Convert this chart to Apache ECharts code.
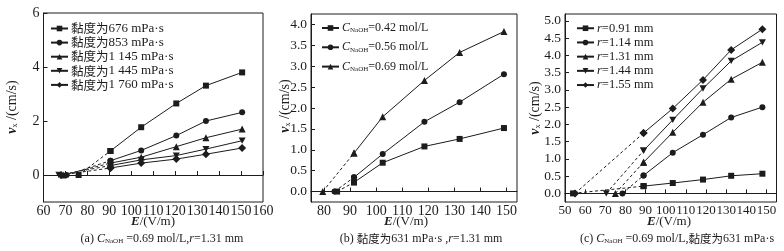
<!DOCTYPE html>
<html>
<head>
<meta charset="utf-8">
<script src="https://cdn.jsdelivr.net/npm/echarts@6/dist/echarts.min.js"></script>
<style>
  html, body { margin: 0; padding: 0; background: #fff; }
  #main { width: 784px; height: 251px; }
</style>
</head>
<body>
<div id="main"></div>
<script>
// (a) 不同黏度
var eA = [90.5, 104.5, 120.5, 134, 150.5];
var namesA = ['黏度为676 mPa·s', '黏度为853 mPa·s', '黏度为1 145 mPa·s', '黏度为1 445 mPa·s', '黏度为1 760 mPa·s'];
var zeroA = [76, 70.5, 69, 67, 68];
var vA676 = [0.89, 1.77, 2.65, 3.31, 3.80];
var vA853 = [0.53, 0.91, 1.46, 2.00, 2.32];
var vA1145 = [0.44, 0.66, 1.05, 1.38, 1.70];
var vA1445 = [0.35, 0.56, 0.72, 0.96, 1.27];
var vA1760 = [0.26, 0.44, 0.59, 0.77, 1.00];

// (b) 不同 NaOH 浓度
var eB = [91.5, 102.5, 118.5, 132, 149];
var concB = ['0.42', '0.56', '0.69'];
var zeroB = [85, 84, 79.5];
var vB042 = [0.22, 0.69, 1.08, 1.26, 1.52];
var vB056 = [0.34, 0.90, 1.67, 2.14, 2.81];
var vB069 = [0.92, 1.79, 2.66, 3.33, 3.83];

// (c) 不同半径
var eC = [89, 103.5, 118.5, 132.5, 148];
var radC = ['0.91', '1.14', '1.31', '1.44', '1.55'];
var zeroC = [54, 78.5, 75, 70.5, 55];
var vC091 = [0.21, 0.30, 0.40, 0.51, 0.57];
var vC114 = [0.52, 1.18, 1.70, 2.20, 2.50];
var vC131 = [0.90, 1.77, 2.64, 3.31, 3.80];
var vC144 = [1.24, 2.13, 3.04, 3.84, 4.38];
var vC155 = [1.75, 2.46, 3.29, 4.16, 4.76];

// tick labels
var xTicksA = [60, 70, 80, 90, 100, 110, 120, 130, 140, 150, 160];
var yTicksA = [0, 2, 4, 6];
var xTicksB = [80, 90, 100, 110, 120, 130, 140, 150];
var yTicksB = [0, 0.5, 1, 1.5, 2, 2.5, 3, 3.5, 4];
var xTicksC = [50, 60, 70, 80, 90, 100, 110, 120, 130, 140, 150];
var yTicksC = [0, 0.5, 1, 1.5, 2, 2.5, 3, 3.5, 4, 4.5, 5];

var FONT = '"Liberation Serif", "Noto Sans CJK SC", serif';
var CJK = '"Noto Sans CJK SC", serif';
var INK = '#1c1c1c';
var downTri = 'path://M0,0L10,0L5,9Z';
var symA = ['rect', 'circle', 'triangle', downTri, 'diamond'];
var symB = ['rect', 'circle', 'triangle'];
var symC = ['rect', 'circle', 'triangle', downTri, 'diamond'];

// 富文本样式：斜体、粗斜体、下标、正文、中文
function mkRich(f, sf, cf) {
  return {
    b: { fontFamily: FONT, fontSize: f, fontStyle: 'italic', fontWeight: 'bold', color: INK, lineHeight: f },
    i: { fontFamily: FONT, fontSize: f, fontStyle: 'italic', color: INK, lineHeight: f },
    s: { fontFamily: FONT, fontSize: sf, color: INK, verticalAlign: 'bottom', padding: [Math.round(f / 2), 0, 0, 0], lineHeight: f },
    n: { fontFamily: FONT, fontSize: f, color: INK, lineHeight: f },
    c: { fontFamily: CJK, fontSize: cf, color: INK, lineHeight: f }
  };
}
var richLegA = mkRich(13, 7, 12.5);
var richLegB = mkRich(12, 7, 12);
var richLegC = mkRich(12.5, 7, 12);
var richAxisY = mkRich(14, 8, 13);
var richAxisX = mkRich(13, 7, 12);
var richCap = mkRich(12, 7, 11.5);

function symSize(s) {
  if (s === 'diamond') return 8;
  if (s === 'triangle' || s === downTri) return 7;
  return 6;
}

var series = [];
function addGroup(g, names, syms, xs, valsList, zeros) {
  names.forEach(function (n, i) {
    var vals = valsList[i];
    series.push({
      type: 'line', name: n, xAxisIndex: g, yAxisIndex: g,
      data: xs.map(function (x, j) { return [x, vals[j]]; }),
      symbol: syms[i], symbolSize: symSize(syms[i]), symbolKeepAspect: true,
      lineStyle: { color: INK, width: 1 }, itemStyle: { color: INK },
      animation: false, z: 3
    });
    // 虚线：起始点到第一个测点
    series.push({
      type: 'line', name: n + ' ', xAxisIndex: g, yAxisIndex: g,
      data: [[zeros[i], 0], [xs[0], vals[0]]],
      symbol: syms[i], symbolSize: symSize(syms[i]), symbolKeepAspect: true,
      lineStyle: { color: INK, width: 1, type: [3, 2.5] }, itemStyle: { color: INK },
      animation: false, z: 2
    });
  });
}

var namesB = concB.map(function (c) { return 'CNaOH=' + c + ' mol/L'; });
var namesC = radC.map(function (r) { return 'r=' + r + ' mm'; });

addGroup(0, namesA, symA, eA, [vA676, vA853, vA1145, vA1445, vA1760], zeroA);
addGroup(1, namesB, symB, eB, [vB042, vB056, vB069], zeroB);
addGroup(2, namesC, symC, eC, [vC091, vC114, vC131, vC144, vC155], zeroC);

function xAx(g, min, max, ticks, fs) {
  return {
    type: 'value', gridIndex: g, min: min, max: max,
    axisLine: { show: true, lineStyle: { color: INK, width: 1 } },
    axisTick: { show: true, inside: true, length: 4, customValues: ticks, lineStyle: { color: INK } },
    axisLabel: { customValues: ticks, margin: 2, fontFamily: FONT, fontSize: fs, color: INK, hideOverlap: false },
    splitLine: { show: false }
  };
}
function yAx(g, min, max, ticks, digits, fs) {
  return {
    type: 'value', gridIndex: g, min: min, max: max,
    axisLine: { show: true, lineStyle: { color: INK, width: 1 } },
    axisTick: { show: true, inside: true, length: 4, customValues: ticks, lineStyle: { color: INK } },
    axisLabel: {
      customValues: ticks, margin: 4, fontFamily: FONT, fontSize: fs, color: INK,
      formatter: function (v) { return v.toFixed(digits); }
    },
    splitLine: { show: false }
  };
}

function legendOf(names, left, top, gap, rich, fmt) {
  return {
    data: names, left: left, top: top, orient: 'vertical',
    itemWidth: 17, itemHeight: 7, itemGap: gap,
    textStyle: { fontFamily: FONT, fontSize: 13, color: INK, padding: [0, 0, 0, -2], rich: rich },
    formatter: fmt, selectedMode: false
  };
}

function label(x, y, text, rich, rot) {
  return {
    type: 'text', x: x, y: y, rotation: rot || 0,
    style: { text: text, rich: rich, align: 'center', verticalAlign: 'middle', fill: INK }
  };
}

var option = {
  backgroundColor: '#fff',
  animation: false,
  grid: [
    { left: 43.5, top: 13, width: 219.5, height: 189, show: true, borderColor: INK, borderWidth: 1, outerBoundsMode: 'none' },
    { left: 311, top: 14, width: 206, height: 188, show: true, borderColor: INK, borderWidth: 1, outerBoundsMode: 'none' },
    { left: 565, top: 14, width: 211.5, height: 188, show: true, borderColor: INK, borderWidth: 1, outerBoundsMode: 'none' }
  ],
  xAxis: [xAx(0, 60, 160, xTicksA, 14), xAx(1, 75, 154, xTicksB, 14), xAx(2, 50, 155, xTicksC, 13)],
  yAxis: [yAx(0, -1, 6, yTicksA, 0, 14), yAx(1, -0.25, 4.25, yTicksB, 1, 13.5), yAx(2, -0.25, 5.2, yTicksC, 1, 13.5)],
  legend: [
    legendOf(namesA, 45, 17, 1.1, richLegA, function (n) { return '{c|' + n.slice(0, 3) + '}{n|' + n.slice(3) + '}'; }),
    legendOf(namesB, 316, 16, 6.3, richLegB, function (n) { return '{i|C}{s|NaOH}{n|=' + n.slice(6) + '}'; }),
    legendOf(namesC, 571, 17, 1.7, richLegC, function (n) { return '{i|r}{n|' + n.slice(1) + '}'; })
  ],
  graphic: [
    label(12, 107, '{b|v}{s|x}{n| /(cm/s)}', richAxisY, Math.PI / 2),
    label(285, 106, '{b|v}{s|x}{n| /(cm/s)}', richAxisY, Math.PI / 2),
    label(535, 108, '{b|v}{s|x}{n| /(cm/s)}', richAxisY, Math.PI / 2),
    label(153, 222, '{b|E}{n|/(V/m)}', richAxisX),
    label(406, 222, '{b|E}{n|/(V/m)}', richAxisX),
    label(669, 222, '{b|E}{n|/(V/m)}', richAxisX),
    label(162, 239, '{n|(a) }{i|C}{s|NaOH}{n| =0.69 mol/L,}{i|r}{n|=1.31 mm}', richCap),
    label(421, 239, '{n|(b) }{c|黏度为}{n|631 mPa·s ,}{i|r}{n|=1.31 mm}', richCap),
    label(677, 239, '{n|(c) }{i|C}{s|NaOH}{n| =0.69 mol/L,}{c|黏度为}{n|631 mPa·s}', richCap)
  ],
  series: series
};

var chart = echarts.init(document.getElementById('main'), null, { renderer: 'canvas' });
chart.setOption(option);
</script>
</body>
</html>
